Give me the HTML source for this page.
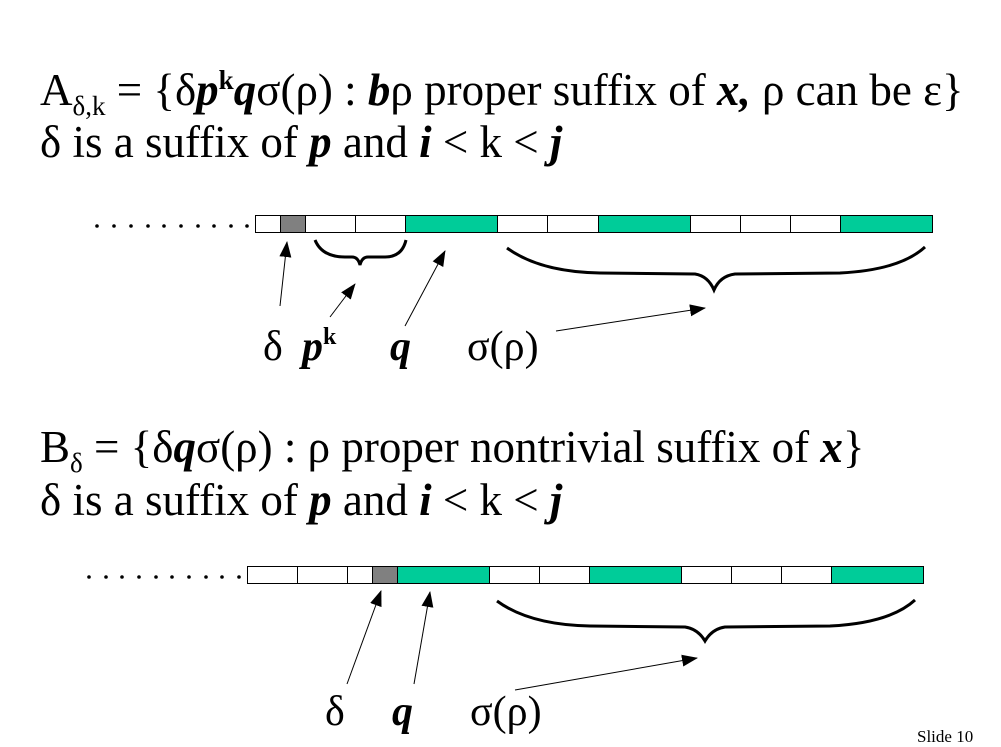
<!DOCTYPE html>
<html><head><meta charset="utf-8"><style>
body{margin:0;background:#fff}
svg{display:block}
text{font-family:"Liberation Serif",serif;fill:#000}
</style></head><body>
<svg width="1001" height="747" viewBox="0 0 1001 747" xmlns="http://www.w3.org/2000/svg">
<defs>
<marker id="b" markerWidth="16" markerHeight="16" refX="15" refY="8" orient="auto" markerUnits="userSpaceOnUse" viewBox="0 0 16 16"><path d="M0,2 L16,8 L0,14z" fill="#000"/></marker></defs>
<g font-size="45">
<text x="40" y="105">A<tspan font-size="27" dy="10">δ,k</tspan><tspan dy="-10"> = {δ</tspan><tspan font-weight="bold" font-style="italic">p</tspan><tspan font-size="27" font-weight="bold" dy="-16">k</tspan><tspan font-weight="bold" font-style="italic" dy="16">q</tspan>σ(ρ) : <tspan font-weight="bold" font-style="italic">b</tspan>ρ proper suffix of <tspan font-weight="bold" font-style="italic">x,</tspan> ρ can be ε}</text>
<text x="40" y="157">δ is a suffix of <tspan font-weight="bold" font-style="italic">p</tspan> and <tspan font-weight="bold" font-style="italic">i</tspan> &lt; k &lt; <tspan font-weight="bold" font-style="italic">j</tspan></text>
<text x="40" y="462">B<tspan font-size="27" dy="10">δ</tspan><tspan dy="-10"> = {δ</tspan><tspan font-weight="bold" font-style="italic">q</tspan>σ(ρ) : ρ proper nontrivial suffix of <tspan font-weight="bold" font-style="italic">x</tspan>}</text>
<text x="40" y="515">δ is a suffix of <tspan font-weight="bold" font-style="italic">p</tspan> and <tspan font-weight="bold" font-style="italic">i</tspan> &lt; k &lt; <tspan font-weight="bold" font-style="italic">j</tspan></text>
</g>
<g font-size="42">
<text x="263" y="360">δ</text>
<text x="302" y="360" font-weight="bold" font-style="italic">p<tspan font-size="24" font-style="normal" dy="-16">k</tspan></text>
<text x="390" y="360" font-weight="bold" font-style="italic">q</text>
<text x="467" y="360">σ(ρ)</text>
<text x="325" y="725">δ</text>
<text x="392" y="725" font-weight="bold" font-style="italic">q</text>
<text x="470" y="725">σ(ρ)</text>
</g>
<text x="917" y="742" font-size="17">Slide 10</text>
<g fill="#000">
<circle cx="97" cy="226" r="1.8"/><circle cx="114" cy="226" r="1.8"/><circle cx="131" cy="226" r="1.8"/><circle cx="148" cy="226" r="1.8"/><circle cx="164" cy="226" r="1.8"/><circle cx="181" cy="226" r="1.8"/><circle cx="198" cy="226" r="1.8"/><circle cx="214" cy="226" r="1.8"/><circle cx="231" cy="226" r="1.8"/><circle cx="247" cy="226" r="1.8"/>
<circle cx="89" cy="577" r="1.8"/><circle cx="106" cy="577" r="1.8"/><circle cx="122" cy="577" r="1.8"/><circle cx="139" cy="577" r="1.8"/><circle cx="156" cy="577" r="1.8"/><circle cx="172" cy="577" r="1.8"/><circle cx="189" cy="577" r="1.8"/><circle cx="206" cy="577" r="1.8"/><circle cx="222" cy="577" r="1.8"/><circle cx="239" cy="577" r="1.8"/>
</g>
<g stroke="#000" stroke-width="1">
<rect x="255.5" y="215.5" width="25" height="17" fill="#fff"/>
<rect x="280.5" y="215.5" width="25" height="17" fill="#808080"/>
<rect x="305.5" y="215.5" width="50" height="17" fill="#fff"/>
<rect x="355.5" y="215.5" width="50" height="17" fill="#fff"/>
<rect x="405.5" y="215.5" width="92" height="17" fill="#00cc99"/>
<rect x="497.5" y="215.5" width="50" height="17" fill="#fff"/>
<rect x="547.5" y="215.5" width="51" height="17" fill="#fff"/>
<rect x="598.5" y="215.5" width="92" height="17" fill="#00cc99"/>
<rect x="690.5" y="215.5" width="50" height="17" fill="#fff"/>
<rect x="740.5" y="215.5" width="50" height="17" fill="#fff"/>
<rect x="790.5" y="215.5" width="50" height="17" fill="#fff"/>
<rect x="840.5" y="215.5" width="92" height="17" fill="#00cc99"/>

<rect x="247.5" y="566.5" width="50" height="17" fill="#fff"/>
<rect x="297.5" y="566.5" width="50" height="17" fill="#fff"/>
<rect x="347.5" y="566.5" width="25" height="17" fill="#fff"/>
<rect x="372.5" y="566.5" width="25" height="17" fill="#808080"/>
<rect x="397.5" y="566.5" width="92" height="17" fill="#00cc99"/>
<rect x="489.5" y="566.5" width="50" height="17" fill="#fff"/>
<rect x="539.5" y="566.5" width="50" height="17" fill="#fff"/>
<rect x="589.5" y="566.5" width="92" height="17" fill="#00cc99"/>
<rect x="681.5" y="566.5" width="50" height="17" fill="#fff"/>
<rect x="731.5" y="566.5" width="50" height="17" fill="#fff"/>
<rect x="781.5" y="566.5" width="50" height="17" fill="#fff"/>
<rect x="831.5" y="566.5" width="92" height="17" fill="#00cc99"/>
</g>
<g fill="none" stroke="#000" stroke-width="3">
<path d="M315,240 Q322,257 345,257 L352,257 Q358,257 360,265 Q362,257 368,257 L385,257 Q402,257 406,240"/>
<path d="M507,248 Q540,272 600,273 L695,274 Q708,276 714,290 Q720,276 735,274 L840,273 Q900,270 925,247"/>
<path d="M497,601 Q530,625 590,626 L685,627 Q698,629 705,641 Q712,629 725,627 L830,626 Q890,623 915,600"/>
</g>
<g stroke="#000" stroke-width="1">
<line x1="280" y1="306" x2="287" y2="242" marker-end="url(#b)"/>
<line x1="330" y1="317" x2="355" y2="284" marker-end="url(#b)"/>
<line x1="405" y1="326" x2="445" y2="251" marker-end="url(#b)"/>
<line x1="556" y1="331" x2="705" y2="308" marker-end="url(#b)"/>
<line x1="347" y1="684" x2="381" y2="591" marker-end="url(#b)"/>
<line x1="414" y1="684" x2="430" y2="592" marker-end="url(#b)"/>
<line x1="515" y1="690" x2="697" y2="658" marker-end="url(#b)"/>
</g>
</svg>
</body></html>
